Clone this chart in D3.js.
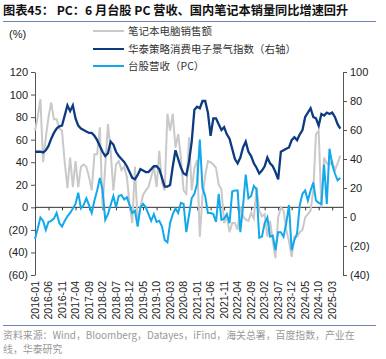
<!DOCTYPE html>
<html>
<head>
<meta charset="utf-8">
<script src="https://cdn.jsdelivr.net/npm/d3@7"></script>
<style>
  body { margin: 0; background: #fff; }
  text { font-family: "Liberation Sans", Arial, sans-serif; }
  .cjk { font-family: "Noto Sans CJK SC", sans-serif; }
</style>
</head>
<body>
<div id="chart"></div>
<script>
// chart data, monthly 2016-01 .. 2025-06
const months = d3.timeMonths(new Date(2016, 0, 1), new Date(2025, 6, 1)).map(d3.timeFormat("%Y-%m"))

const xTickLabels = ["2016-01","2016-06","2016-11","2017-04","2017-09","2018-02","2018-07","2018-12",
    "2019-05","2019-10","2020-03","2020-08","2021-01","2021-06","2021-11","2022-04","2022-09",
    "2023-02","2023-07","2023-12","2024-05","2024-10","2025-03"]
const leftTicks = [120, 100, 80, 60, 40, 20, 0, -20, -40, -60]
const rightTicks = [100, 80, 60, 40, 20, 0, -20, -40]

// 笔记本电脑销售额 (left axis)
const notebookSales = [68, 80, 96, 40, 62, 80, 93, 78, 78, 70,
    68, 40, 17, 44, 18, 41, 18, 36, 38, 36,
    27, 15, 47, 47, 71, 0, 36, 74, 50, 15,
    38, 41, 33, 36, 27, 3, -14, 36, -14, 0,
    11, 15, 18, 27, 36, 18, 50, 22, 15, 83,
    68, 83, 53, 65, 44, 15, 12, 62, 15, 35,
    42, -26, 10, 28, 41, 40, 38, 35, 20, 16,
    -14, -8, -22, -14, -14, -20, 0, -8, -11, -12,
    -5, -10, 18, -3, -8, -6, -26, -12, -30, -45,
    -9, 0, -3, -20, -30, -44, -26, -26, -22, -20,
    -9, -6, -3, 15, 65, 68, 0, 44, 39, 38,
    41, 33, 39, 46]

// 华泰策略消费电子景气指数 (right axis)
const sentimentIndex = [45, 45, 45, 44.5, 46, 49, 54, 58, 61, 62.5,
    63, 70, 77, 73, 77, 68, 63, 61, 60, 59,
    58, 58, 56, 53, 49, 45, 42, 44, 52, 50,
    45, 42, 40, 38, 35, 31, 27, 26, 29, 33,
    32, 31, 31, 33, 35, 35, 33, 27, 21, 21,
    22, 35, 46, 40, 34, 30, 29, 38, 52, 74,
    76, 75, 80, 80, 72, 56, 68, 68, 64, 60,
    62, 57, 54, 47, 40, 37, 41, 48, 52, 45,
    42, 37, 34, 30, 32, 35, 41, 37, 35, 31,
    26, 45, 46, 47, 48, 53, 55, 53, 57, 60,
    69, 72, 75, 69, 68, 63, 71, 70, 72, 71,
    72, 69, 64, 61]

// 台股营收（PC） (left axis)
const twRevenue = [-28, -19, -9, -12, -20, -13, -12, -10, -5, -14,
    -17, -12, -8, -5, -1, 3, 13, -1, 2, 8,
    2, -5, 6, 15, 26, 16, -11, -6, 2, 10,
    0, 10, 11, 7, 9, 2, -5, -3, -17, 0,
    3, 0, -6, -12, -6, -13, -12, -17, -29, -31,
    -14, -6, -1, -5, 4, 3, -22, -7, 8, 12,
    21, 60, 17, 10, -5, -5, -6, -13, 12, -11,
    -10, -6, -14, 14, 15, 15, -22, 1, 29, 8,
    10, 19, 16, -27, -26, -14, -9, -26, -25, -38,
    -22, -22, -26, -14, 2, -38, -29, -23, 2, 12,
    15, 6, 15, 22, 6, 4, 3, 38, 3, 52,
    38, 30, 24, 26]

const colors = { gray: "#c9c9c9", navy: "#0d3b80", sky: "#12a8ec" }

buildChart()

function buildChart() {
    const W = 386, H = 359
    const svg = d3.select("#chart").append("svg")
        .attr("width", W).attr("height", H)

    const x = d3.scaleLinear().domain([0, 114]).range([35, 343])
    const yL = d3.scaleLinear().domain([-60, 120]).range([275, 72])
    const yR = d3.scaleLinear().domain([-40, 100]).range([275, 72])

    // title
    svg.append("text").attr("class", "cjk")
        .attr("x", 3).attr("y", 15)
        .attr("font-size", 12.2).attr("font-weight", "bold").attr("fill", "#111")
        .text("图表45：  PC：6 月台股 PC 营收、国内笔记本销量同比增速回升")
    svg.append("line").attr("x1", 3).attr("x2", 376).attr("y1", 21.5).attr("y2", 21.5)
        .attr("stroke", "#6c86b4").attr("stroke-width", 1)

    svg.append("text").attr("x", 9).attr("y", 38).attr("font-size", 11).attr("fill", "#222").text("(%)")

    // legend
    const legend = [
        { name: "笔记本电脑销售额", color: colors.gray, y: 31 },
        { name: "华泰策略消费电子景气指数（右轴）", color: colors.navy, y: 49 },
        { name: "台股营收（PC）", color: colors.sky, y: 66 }
    ]
    const lg = svg.append("g")
    lg.selectAll("line").data(legend).enter().append("line")
        .attr("x1", 93).attr("x2", 124)
        .attr("y1", d => d.y).attr("y2", d => d.y)
        .attr("stroke", d => d.color).attr("stroke-width", 2)
    lg.selectAll("text").data(legend).enter().append("text")
        .attr("class", "cjk")
        .attr("x", 128).attr("y", d => d.y + 4)
        .attr("font-size", 10.5).attr("fill", "#333")
        .text(d => d.name)

    // axes
    const fmt = v => v < 0 ? `(${-v})` : v
    const left = svg.append("g").attr("transform", "translate(35,0)")
        .call(d3.axisLeft(yL).tickValues(leftTicks).tickFormat(fmt).tickSize(4).tickSizeOuter(0))
    const right = svg.append("g").attr("transform", "translate(343,0)")
        .call(d3.axisRight(yR).tickValues(rightTicks).tickFormat(fmt).tickSize(4).tickSizeOuter(0))
    ;[left, right].forEach(g => {
        g.selectAll("path, line").attr("stroke", "#555")
        g.selectAll("text").attr("font-size", 11).attr("fill", "#222")
            .style("font-family", "Liberation Sans, Arial, sans-serif")
    })

    const bottom = svg.append("g").attr("transform", `translate(0,${yL(0)})`)
        .call(d3.axisBottom(x).tickValues(xTickLabels.map(d => months.indexOf(d))).tickSize(3).tickSizeOuter(0).tickFormat(""))
    bottom.select(".domain").attr("d", `M35,0H343`).attr("stroke", "#333")
    bottom.selectAll("line").attr("stroke", "#333")

    svg.append("g").selectAll("text").data(xTickLabels).enter().append("text")
        .attr("transform", d => `translate(${x(months.indexOf(d)) + 3.8},281) rotate(-90)`)
        .attr("text-anchor", "end")
        .attr("font-size", 10.5).attr("fill", "#222")
        .text(d => d)

    // series
    const lineL = d3.line().x((d, i) => x(i)).y(d => yL(d))
    const lineR = d3.line().x((d, i) => x(i)).y(d => yR(d))
    svg.append("path").attr("d", lineL(notebookSales))
        .attr("fill", "none").attr("stroke", colors.gray).attr("stroke-width", 2)
    svg.append("path").attr("d", lineR(sentimentIndex))
        .attr("fill", "none").attr("stroke", colors.navy).attr("stroke-width", 2.3)
    svg.append("path").attr("d", lineL(twRevenue))
        .attr("fill", "none").attr("stroke", colors.sky).attr("stroke-width", 2)

    // footer
    svg.append("line").attr("x1", 3).attr("x2", 376).attr("y1", 325.5).attr("y2", 325.5)
        .attr("stroke", "#6c86b4").attr("stroke-width", 1)
    const src = svg.append("text").attr("class", "cjk").attr("font-size", 9.9).attr("fill", "#999")
    src.append("tspan").attr("x", 3).attr("y", 339)
        .text("资料来源：Wind，Bloomberg，Datayes，iFind，海关总署，百度指数，产业在")
    src.append("tspan").attr("x", 3).attr("y", 353).text("线，华泰研究")
}
</script>
</body>
</html>
